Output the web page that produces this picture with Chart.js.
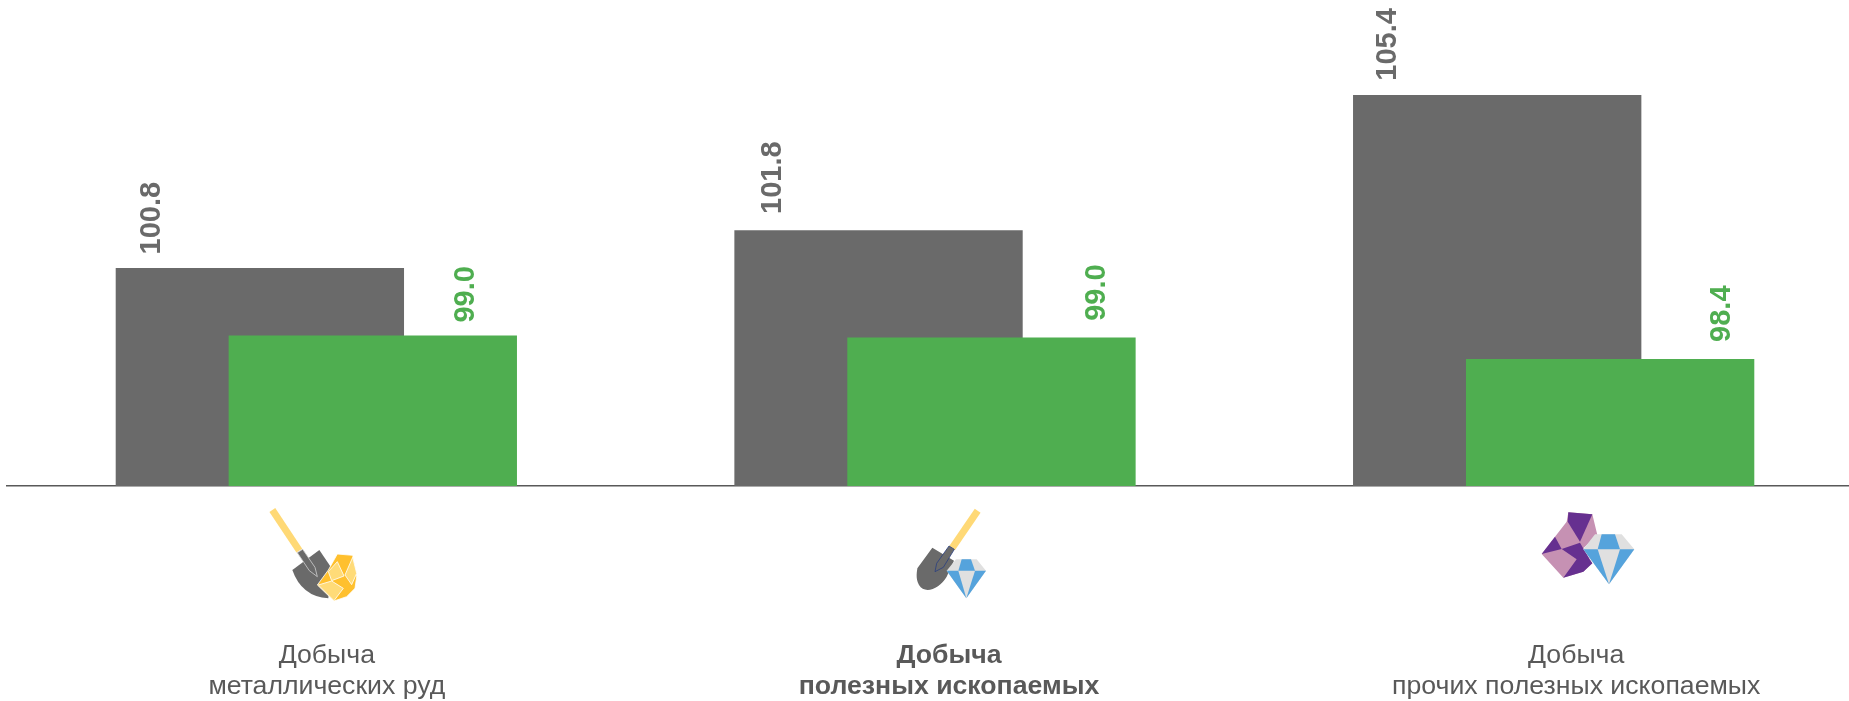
<!DOCTYPE html>
<html><head><meta charset="utf-8">
<style>html,body{margin:0;padding:0;background:#fff;overflow:hidden;width:1849px;height:701px}
#w{position:absolute;left:0;top:0;width:1863px;height:701px}</style>
<script src="https://cdn.jsdelivr.net/npm/chart.js@4/dist/chart.umd.js"></script>
</head><body><div id="w"><canvas id="c" width="1863" height="701"></canvas></div>
<script>
const categories = [["Добыча","металлических руд"],["Добыча","полезных ископаемых"],["Добыча","прочих полезных ископаемых"]];
const seriesGray = [100.8,101.8,105.4];
const seriesGreen = [99.0,98.95,98.38];
const axisMin = 95;
const axisMax = 107.925;
const COLORS = {gray:'#6a6a6a',green:'#4fae50',text:'#595959',axis:'#595959',handle:'#ffd976',nugget:'#ffc02e',nuggetLight:'#ffdb78',purple:'#663090',pink:'#c691b3',gem:'#e0e0e0',blue:'#55a3dc',navy:'#2a3f80'};
const labelDx = [[-108,93],[-106,106],[-109,112]];
const labelGap = [[13.5,13],[16.4,16.7],[14.3,17]];
const catDx = [10.5,14,22.5];
const boldCat = [false,true,false];

function poly(ctx,ox,oy,pts,fill,stroke,lw){
  ctx.beginPath();
  pts.forEach((p,i)=>{const x=ox+p[0]/3,y=oy+p[1]/3; i?ctx.lineTo(x,y):ctx.moveTo(x,y);});
  ctx.closePath();
  if(fill){ctx.fillStyle=fill;ctx.fill();}
  if(stroke){ctx.strokeStyle=stroke;ctx.lineWidth=lw||1;ctx.stroke();}
}
function gem(ctx,ox,oy,l,tl,tc1,tc2,tr,r,my,tipx,tipy,c1,c2,ty){
  poly(ctx,ox,oy,[[l,my],[tl,ty],[tr,ty],[r,my],[tipx,tipy]],COLORS.gem);
  poly(ctx,ox,oy,[[tc1,ty],[tc2,ty],[c2,my],[c1,my]],COLORS.blue);
  poly(ctx,ox,oy,[[l,my],[c1,my],[tipx,tipy]],COLORS.blue);
  poly(ctx,ox,oy,[[c2,my],[r,my],[tipx,tipy]],COLORS.blue);
}
function drawIcons(ctx){
  let ox=200,oy=480;
  ctx.save();
  ctx.lineCap='butt';
  ctx.strokeStyle=COLORS.handle;ctx.lineWidth=7;
  ctx.beginPath();ctx.moveTo(ox+217/3,oy+90/3);ctx.lineTo(ox+298/3,oy+212/3);ctx.stroke();
  ctx.fillStyle=COLORS.gray;
  ctx.beginPath();ctx.moveTo(ox+277/3,oy+270/3);ctx.lineTo(ox+358/3,oy+210/3);ctx.lineTo(ox+395/3,oy+265/3);ctx.lineTo(ox+385/3,oy+355/3);
  ctx.quadraticCurveTo(ox+305/3,oy+350/3,ox+277/3,oy+270/3);ctx.closePath();ctx.fill();
  poly(ctx,ox,oy,[[292,218],[308,208],[345,262],[352,290],[328,272]],COLORS.gray,'#cfcfcf',0.8);
  poly(ctx,ox,oy,[[412,222],[458,226],[470,290],[465,325],[440,350],[402,363],[352,315],[385,270]],COLORS.nugget,'#fff',0.8);
  poly(ctx,ox,oy,[[412,245],[385,275],[395,302],[432,288]],COLORS.nuggetLight,'#fff',0.8);
  poly(ctx,ox,oy,[[458,232],[470,280],[455,314],[435,285]],COLORS.nuggetLight,'#fff',0.8);
  poly(ctx,ox,oy,[[355,315],[395,303],[430,325],[402,362]],COLORS.nuggetLight,'#fff',0.8);
  ox=800;oy=480;
  ctx.strokeStyle=COLORS.handle;ctx.lineWidth=7;
  ctx.beginPath();ctx.moveTo(ox+533/3,oy+92/3);ctx.lineTo(ox+456/3,oy+205/3);ctx.stroke();
  ctx.fillStyle=COLORS.gray;
  ctx.beginPath();ctx.moveTo(ox+397/3,oy+203/3);ctx.lineTo(ox+462/3,oy+242/3);ctx.lineTo(ox+440/3,oy+290/3);
  ctx.bezierCurveTo(ox+420/3,oy+325/3,ox+375/3,oy+345/3,ox+357/3,oy+315/3);
  ctx.bezierCurveTo(ox+345/3,oy+295/3,ox+352/3,oy+270/3,ox+352/3,oy+265/3);ctx.closePath();ctx.fill();
  poly(ctx,ox,oy,[[447,198],[463,208],[430,262],[405,275],[410,250]],COLORS.gray,COLORS.navy,0.8);
  gem(ctx,ox,oy,440,468,485,513,530,558,272,499,355,475,525,238);
  ox=1420;oy=480;
  poly(ctx,ox,oy,[[445,97],[517,103],[532,165],[490,205],[517,250],[490,275],[430,293],[365,222],[405,170],[440,125]],COLORS.pink);
  poly(ctx,ox,oy,[[445,97],[517,103],[480,185],[443,125]],COLORS.purple);
  poly(ctx,ox,oy,[[405,170],[425,207],[365,222]],COLORS.purple);
  poly(ctx,ox,oy,[[425,207],[480,188],[510,240],[517,250],[490,275],[430,293],[470,238]],COLORS.purple);
  gem(ctx,ox,oy,490,525,545,585,605,643,208,567,313,533,600,163);
  ctx.restore();
}
const overlay = {
  id:'overlay',
  beforeDatasetDraw(chart,args){
    if(args.index===0) return false;
    chart.getDatasetMeta(0).controller.draw();
  },
  afterDatasetsDraw(chart){
    const ctx=chart.ctx,xs=chart.scales.x;
    ctx.save();
    ctx.font='bold 29px "Liberation Sans"';
    ctx.textAlign='left';ctx.textBaseline='middle';
    [COLORS.gray,COLORS.green].forEach((col,d)=>{
      chart.getDatasetMeta(d).data.forEach((bar,i)=>{
        ctx.save();
        ctx.translate(bar.x+labelDx[i][d],bar.y-labelGap[i][d]);
        ctx.rotate(-Math.PI/2);
        ctx.fillStyle=col;
        ctx.fillText(chart.data.datasets[d].data[i].toFixed(1),0,0);
        ctx.restore();
      });
    });
    ctx.fillStyle=COLORS.text;ctx.textAlign='center';ctx.textBaseline='middle';
    categories.forEach((lines,i)=>{
      ctx.font=(boldCat[i]?'bold ':'')+'26.67px "Liberation Sans"';
      lines.forEach((t,j)=>ctx.fillText(t,xs.getPixelForValue(i)+catDx[i],656+j*31));
    });
    drawIcons(ctx);
    ctx.restore();
  }
};
new Chart(document.getElementById('c'),{
  type:'bar',
  data:{labels:categories,datasets:[
    {label:'gray',data:seriesGray,base:axisMin,backgroundColor:COLORS.gray,barPercentage:2.553,categoryPercentage:0.3651},
    {label:'green',data:seriesGreen,base:axisMin,backgroundColor:COLORS.green,barPercentage:2.553,categoryPercentage:0.3651}
  ]},
  options:{
    responsive:false,animation:false,
    layout:{padding:{left:7,right:0,top:0,bottom:207}},
    plugins:{legend:{display:false},tooltip:{enabled:false}},
    scales:{
      x:{grid:{display:false},ticks:{display:false},border:{display:true,color:COLORS.axis,width:1.5}},
      y:{display:false,min:axisMin,max:axisMax}
    }
  },
  plugins:[overlay]
});
</script></body></html>
